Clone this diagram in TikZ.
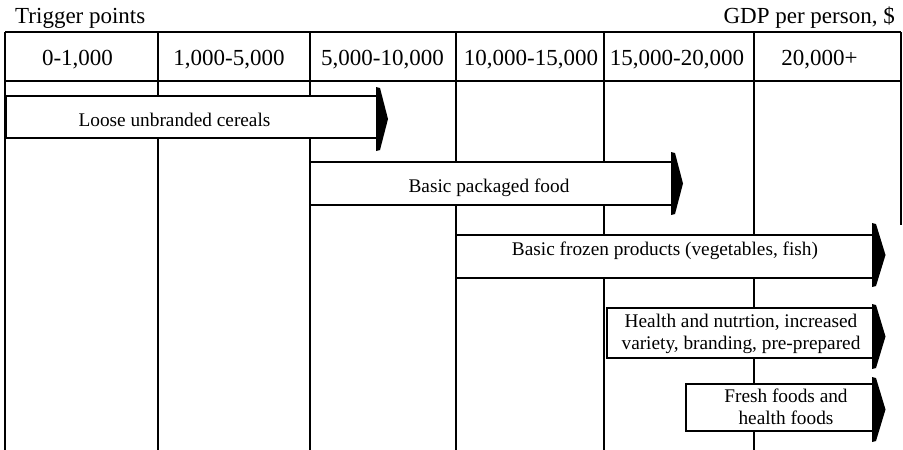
\documentclass[tikz,border=0pt]{standalone}
\usepackage{fontspec}
\setmainfont{Liberation Serif}

% arrowhead that caps a bar: #1 base x, #2 top y, #3 bottom y, #4 tip x
\newcommand{\barcap}[4]{%
  \fill (#1,#2) -- (#1+4,#2+1) -- (#4,{(#2+#3)/2}) -- (#1+4,#3-1) -- (#1,#3) -- cycle;}

\begin{document}
\begin{tikzpicture}[x=1pt,y=-1pt,
  rule/.style={line width=1.8pt},
  barbox/.style={draw, fill=white, line width=1.8pt},
  hdr/.style={font=\fontsize{23}{27}\selectfont, inner sep=0pt, anchor=base},
  lbl/.style={font=\fontsize{19.3}{22.5}\selectfont, inner sep=0pt, align=center},
]
\useasboundingbox (0,0) rectangle (903,450);

% column rules
\foreach \cx in {5,158,310,456,604,754}
  \draw[rule] (\cx,32) -- (\cx,450);
\draw[rule] (901,32) -- (901,225);
% header row
\draw[rule] (5,32) -- (901,32);
\draw[rule] (5,81) -- (901,81);

% titles
\node[hdr, anchor=base west] (trig) at (15,23) {Trigger points};
\node[hdr, anchor=base east] (gdp) at (895,23) {GDP per person, \$};

% income brackets
\node[hdr] (c1) at (77.5,65) {0-1,000};
\node[hdr] (c2) at (229,65) {1,000-5,000};
\node[hdr] (c3) at (382.5,65) {5,000-10,000};
\node[hdr] (c4) at (531,65) {10,000-15,000};
\node[hdr] (c5) at (677,65) {15,000-20,000};
\node[hdr] (c6) at (819.5,65) {20,000+};

% bars
\draw[barbox] (6,96) rectangle (377,138);
\barcap{376}{87}{151}{388}
\draw[barbox] (310,162) rectangle (672,205);
\barcap{671}{152}{215}{683}
\draw[barbox] (456,235) rectangle (873,278);
\barcap{872}{223}{287}{885.5}
\draw[barbox] (607,308) rectangle (873,358);
\barcap{872}{304}{369}{885.5}
\draw[barbox] (686,384) rectangle (873,431);
\barcap{872}{377}{442}{885.5}

% bar labels
\node[lbl, anchor=base] (loose) at (174.5,126) {Loose unbranded cereals};
\node[lbl, anchor=base] (packaged) at (489,192) {Basic packaged food};
\node[lbl, anchor=base] (frozen) at (665,255.5) {Basic frozen products (vegetables, fish)};
\node[lbl] (health) at (741,334) {Health and nutrtion, increased\\variety, branding, pre-prepared};
\node[lbl] (fresh) at (786,407) {Fresh foods and\\health foods};
\end{tikzpicture}
\end{document}
